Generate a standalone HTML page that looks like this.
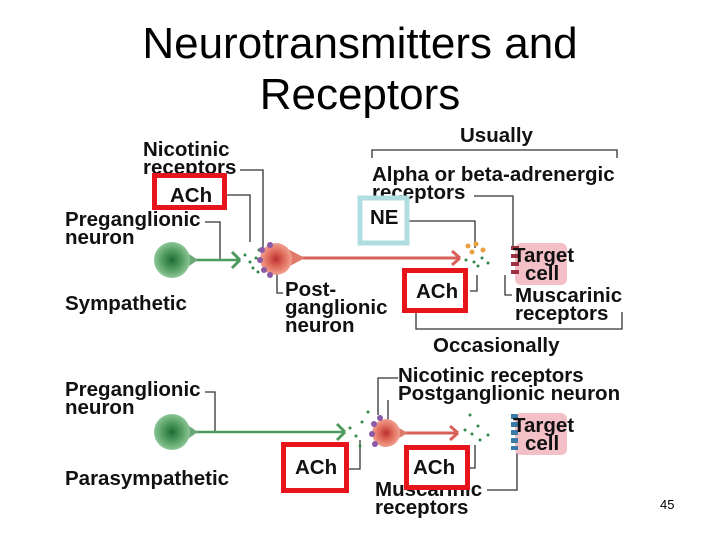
<!DOCTYPE html>
<html><head><meta charset="utf-8"><style>
body{margin:0;background:#fff;}
svg{display:block}
.t{font-family:"Liberation Sans",sans-serif;font-weight:bold;font-size:20.5px;fill:#111}
.ln{stroke:#333;stroke-width:1.3;fill:none}
</style></head><body>
<svg width="720" height="540" viewBox="0 0 720 540" xmlns="http://www.w3.org/2000/svg">
<defs>
<radialGradient id="g" cx="0.5" cy="0.5" r="0.5"><stop offset="0" stop-color="#1f6b35"/><stop offset="0.5" stop-color="#4f9a5e"/><stop offset="1" stop-color="#8cc596"/></radialGradient>
<radialGradient id="r" cx="0.5" cy="0.5" r="0.5"><stop offset="0" stop-color="#b83030"/><stop offset="0.5" stop-color="#e06a5a"/><stop offset="1" stop-color="#f0a090"/></radialGradient>
</defs>
<text x="360" y="58" text-anchor="middle" font-family="Liberation Sans,sans-serif" font-size="44" fill="#000">Neurotransmitters and</text>
<text x="360" y="109" text-anchor="middle" font-family="Liberation Sans,sans-serif" font-size="44" fill="#000">Receptors</text>

<!-- Sympathetic -->
<text class="t" x="143" y="156">Nicotinic</text>
<text class="t" x="143" y="174">receptors</text>
<text class="t" x="65" y="226">Preganglionic</text>
<text class="t" x="65" y="244">neuron</text>
<text class="t" x="65" y="310">Sympathetic</text>
<text class="t" x="460" y="142">Usually</text>
<path class="ln" d="M372 158V150H617V158"/>
<text class="t" x="372" y="181">Alpha or beta-adrenergic</text>
<text class="t" x="372" y="199">receptors</text>
<text class="t" x="285" y="296">Post-</text>
<text class="t" x="285" y="314">ganglionic</text>
<text class="t" x="285" y="332">neuron</text>
<text class="t" x="515" y="302">Muscarinic</text>
<text class="t" x="515" y="320">receptors</text>
<text class="t" x="433" y="352">Occasionally</text>
<path class="ln" d="M240 170H263V258"/>
<path class="ln" d="M226 195H250V242"/>
<path class="ln" d="M205 222H220V260"/>
<path class="ln" d="M408 221H475V248"/>
<path class="ln" d="M470 291H477V275"/>
<path class="ln" d="M474 196H513V250"/>
<path class="ln" d="M512 295H505V275"/>
<path class="ln" d="M416 312V329H622V312"/>
<path class="ln" d="M283 293H277V272"/>
<!-- neurons top -->
<line x1="185" y1="260" x2="240" y2="260" stroke="#4e9a5c" stroke-width="2.5"/>
<path d="M240 260 L232 252 M240 260 L232 268" stroke="#4e9a5c" stroke-width="3"/>
<path d="M186 252 L198 260 L186 268Z" fill="#6aa877"/>
<circle cx="172" cy="260" r="18" fill="url(#g)"/>
<g fill="#2f8a4a"><circle cx="245" cy="255" r="1.5"/><circle cx="250" cy="262" r="1.5"/><circle cx="256" cy="258" r="1.5"/><circle cx="253" cy="268" r="1.5"/><circle cx="259" cy="250" r="1.5"/><circle cx="258" cy="272" r="1.5"/></g>
<line x1="290" y1="258" x2="460" y2="258" stroke="#d9605a" stroke-width="3"/>
<path d="M460 258 L452 251 M460 258 L452 265" stroke="#d9605a" stroke-width="3"/>
<path d="M286 248 L305 258 L286 268Z" fill="#e07a6a"/>
<circle cx="276" cy="259" r="16" fill="url(#r)"/>
<g fill="#8a5aa8"><circle cx="262" cy="250" r="3"/><circle cx="260" cy="260" r="3"/><circle cx="264" cy="270" r="3"/><circle cx="270" cy="245" r="3"/><circle cx="270" cy="275" r="3"/></g>
<g fill="#e6a040"><circle cx="468" cy="246" r="2.5"/><circle cx="476" cy="244" r="2.5"/><circle cx="483" cy="250" r="2.5"/><circle cx="472" cy="252" r="2.5"/></g>
<g fill="#2f8a4a"><circle cx="466" cy="260" r="1.5"/><circle cx="474" cy="262" r="1.5"/><circle cx="482" cy="258" r="1.5"/><circle cx="478" cy="266" r="1.5"/><circle cx="488" cy="263" r="1.5"/></g>
<rect x="515" y="243" width="52" height="42" rx="6" fill="#f4c0c8"/>
<g fill="#9a3040"><rect x="511" y="246" width="8" height="4"/><rect x="511" y="254" width="8" height="4"/><rect x="511" y="262" width="8" height="4"/><rect x="511" y="270" width="8" height="4"/></g>
<text class="t" x="513" y="262">Target</text>
<text class="t" x="525" y="280">cell</text>
<rect x="154.5" y="175.5" width="70" height="32" fill="#fff" stroke="#e8141c" stroke-width="5"/>
<text class="t" x="170" y="202">ACh</text>
<rect x="360" y="198" width="47" height="45" fill="#fff" stroke="#b0dde0" stroke-width="5"/>
<text class="t" x="370" y="224">NE</text>
<rect x="404.5" y="270.5" width="61" height="40" fill="#fff" stroke="#e8141c" stroke-width="5"/>
<text class="t" x="416" y="298">ACh</text>

<!-- Parasympathetic -->
<text class="t" x="65" y="396">Preganglionic</text>
<text class="t" x="65" y="414">neuron</text>
<text class="t" x="65" y="485">Parasympathetic</text>
<text class="t" x="398" y="382">Nicotinic receptors</text>
<text class="t" x="398" y="400">Postganglionic neuron</text>
<text class="t" x="375" y="496">Muscarinic</text>
<text class="t" x="375" y="514">receptors</text>
<path class="ln" d="M205 392H215V433"/>
<path class="ln" d="M398 378H378V415"/>
<path class="ln" d="M388 400V425"/>
<path class="ln" d="M349 469H360V440"/>
<path class="ln" d="M469 468H475V445"/>
<path class="ln" d="M487 490H517V420"/>
<line x1="185" y1="432" x2="345" y2="432" stroke="#4e9a5c" stroke-width="2.5"/>
<path d="M345 432 L337 424 M345 432 L337 440" stroke="#4e9a5c" stroke-width="3"/>
<path d="M186 424 L198 432 L186 440Z" fill="#6aa877"/>
<circle cx="172" cy="432" r="18" fill="url(#g)"/>
<g fill="#2f8a4a"><circle cx="350" cy="428" r="1.5"/><circle cx="356" cy="436" r="1.5"/><circle cx="362" cy="422" r="1.5"/><circle cx="360" cy="446" r="1.5"/><circle cx="368" cy="412" r="1.5"/></g>
<line x1="395" y1="433" x2="458" y2="433" stroke="#d9605a" stroke-width="3"/>
<path d="M458 433 L450 426 M458 433 L450 440" stroke="#d9605a" stroke-width="3"/>
<path d="M392 424 L408 433 L392 442Z" fill="#e07a6a"/>
<circle cx="386" cy="433" r="14" fill="url(#r)"/>
<g fill="#8a5aa8"><circle cx="374" cy="424" r="3"/><circle cx="372" cy="434" r="3"/><circle cx="375" cy="444" r="3"/><circle cx="380" cy="418" r="3"/></g>
<g fill="#2f8a4a"><circle cx="465" cy="430" r="1.5"/><circle cx="472" cy="434" r="1.5"/><circle cx="478" cy="426" r="1.5"/><circle cx="480" cy="440" r="1.5"/><circle cx="470" cy="415" r="1.5"/><circle cx="488" cy="435" r="1.5"/></g>
<rect x="515" y="413" width="52" height="42" rx="6" fill="#f4c0c8"/>
<g fill="#3a7aa8"><rect x="511" y="414" width="7" height="5"/><rect x="511" y="422" width="7" height="5"/><rect x="511" y="430" width="7" height="5"/><rect x="511" y="438" width="7" height="5"/><rect x="511" y="446" width="7" height="4"/></g>
<text class="t" x="513" y="432">Target</text>
<text class="t" x="525" y="450">cell</text>
<rect x="283.5" y="444.5" width="63" height="46" fill="#fff" stroke="#e8141c" stroke-width="5"/>
<text class="t" x="295" y="474">ACh</text>
<rect x="406.5" y="447.5" width="61" height="40" fill="#fff" stroke="#e8141c" stroke-width="5"/>
<text class="t" x="413" y="474">ACh</text>

<text x="660" y="509" font-family="Liberation Sans,sans-serif" font-size="13" fill="#000">45</text>
</svg>
</body></html>
